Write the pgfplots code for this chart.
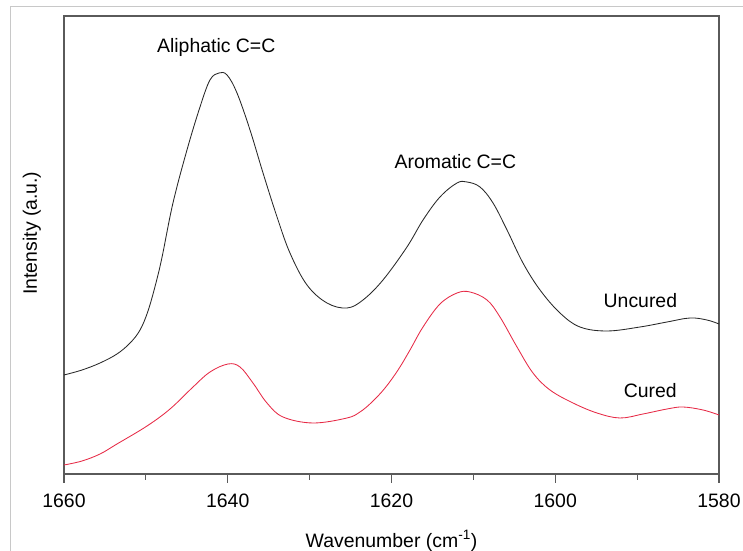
\documentclass[border=0pt]{standalone}
\usepackage{pgfplots}
\pgfplotsset{compat=1.18}
\usepackage{fontspec}
\setmainfont{Liberation Sans}
\definecolor{framegray}{RGB}{200,200,200}
\definecolor{axisgray}{RGB}{90,90,90}
\definecolor{curvered}{RGB}{230,42,70}
\definecolor{curveblack}{RGB}{40,40,40}
\newcommand{\lblfont}{\fontsize{19.5}{23}\selectfont}
\begin{document}
\begin{tikzpicture}[x=1bp,y=1bp]
\useasboundingbox (0,0) rectangle (743,551);
\draw[framegray, line width=1bp] (10.7,0) -- (10.7,544) -- (743,544);
\begin{axis}[
  at={(64bp,77bp)}, anchor=south west,
  scale only axis, width=655bp, height=458bp,
  x dir=reverse, xmin=1580, xmax=1660, ymin=0, ymax=458,
  xtick={1580,1600,1620,1640,1660},
  minor xtick={1590,1610,1630,1650},
  ytick=\empty,
  xtick pos=bottom, tick align=outside,
  major tick length=9bp, minor tick length=6bp,
  axis line style={axisgray, line width=1.5bp},
  every tick/.style={axisgray, line width=1.2bp},
  /pgf/number format/1000 sep={},
  /pgf/number format/assume math mode=true,
  tick label style={font=\lblfont},
  xticklabel style={anchor=base, yshift=-25bp},
  label style={font=\lblfont},
  xlabel={Wavenumber (cm\textsuperscript{-1})},
  ylabel={Intensity (a.u.)},
  xlabel style={at={(axis description cs:0.5,-0.1463)}, anchor=center},
  ylabel style={at={(axis description cs:-0.0489,0.526)}, anchor=center},
  clip=false,
]
\addplot[curveblack, line width=0.85bp, smooth, tension=0.6] coordinates {
(1660.00,99) (1657.80,104) (1655.60,111) (1653.53,120) (1651.93,131)
(1650.71,144) (1649.74,163) (1648.80,190) (1648.02,217) (1646.69,271)
(1644.98,324) (1643.39,367) (1642.17,394)
(1641.07,401) (1640.09,399) (1638.87,381) (1637.28,344) (1635.69,301)
(1633.98,257) (1632.40,221) (1630.32,189) (1627.88,171) (1625.44,166)
(1623.48,174) (1621.04,194) (1618.11,227) (1616.15,254) (1614.08,277)
(1612.00,291) (1610.78,292) (1609.19,287) (1607.60,271) (1605.89,244)
(1603.94,211) (1601.86,184) (1599.42,161) (1596.98,147) (1593.68,143)
(1589.65,147) (1586.35,152) (1583.54,156) (1581.47,154) (1580.00,150)
};
\addplot[curvered, line width=0.85bp, smooth, tension=0.6] coordinates {
(1660.00,9) (1657.80,13) (1655.60,20) (1653.53,30) (1649.86,48) (1647.05,65)
(1644.24,87) (1642.17,102) (1639.97,110) (1638.50,107) (1636.92,91)
(1635.21,71) (1633.25,57) (1629.59,51) (1625.44,56) (1623.85,62)
(1622.38,72) (1620.79,86) (1619.20,104) (1617.74,124) (1616.15,147) (1614.08,170) (1612.00,181)
(1610.41,182) (1608.33,174) (1606.75,157) (1604.67,127) (1602.72,101)
(1600.64,84) (1597.83,71) (1594.90,61) (1592.09,56) (1589.28,60)
(1586.35,65) (1584.40,67) (1581.95,64) (1580.00,59)
};
\node[font=\lblfont] at (axis cs:1641.4,427) {Aliphatic C=C};
\node[font=\lblfont] at (axis cs:1612.2,312) {Aromatic C=C};
\node[font=\lblfont] at (axis cs:1589.6,173) {Uncured};
\node[font=\lblfont] at (axis cs:1588.4,83) {Cured};
\end{axis}
\end{tikzpicture}
\end{document}
